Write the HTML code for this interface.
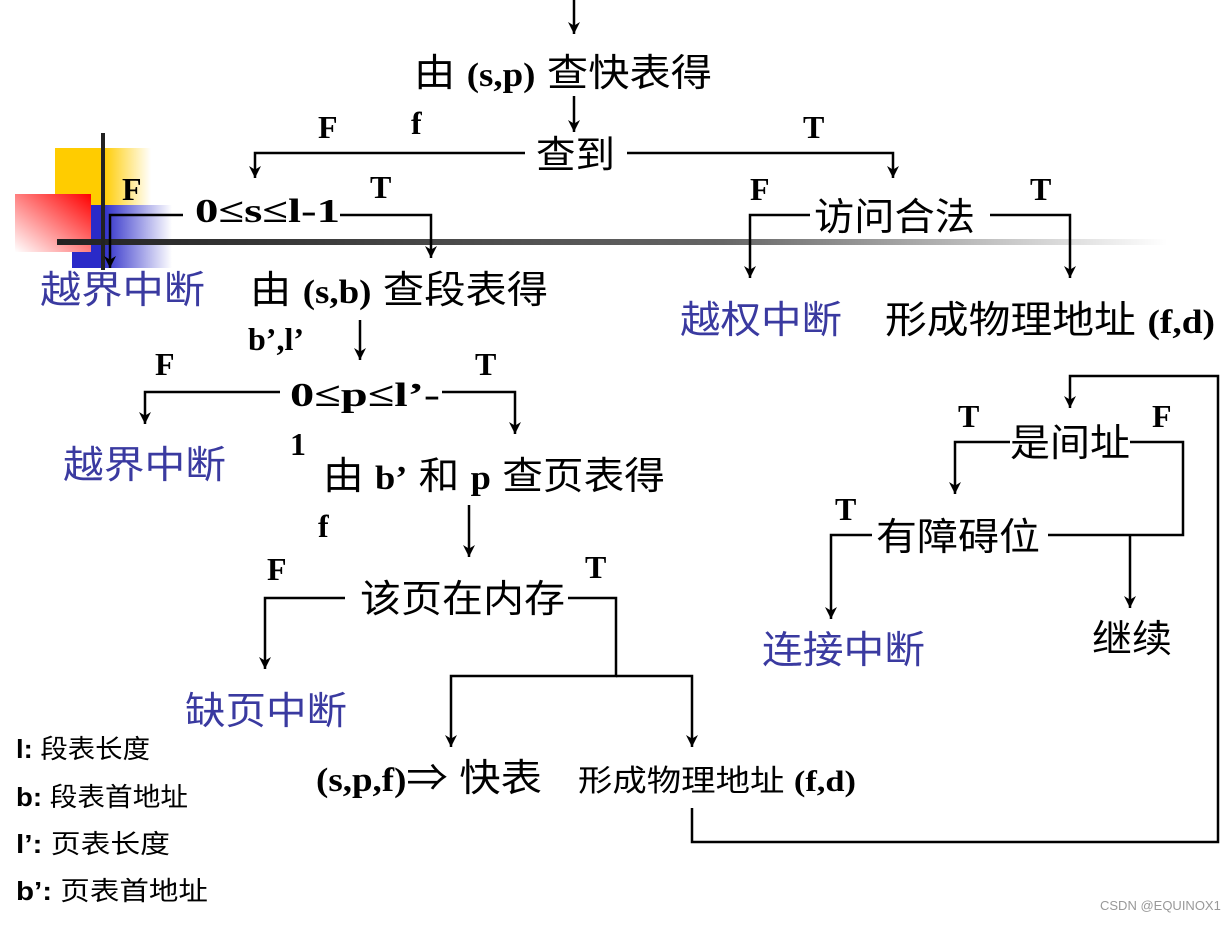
<!DOCTYPE html>
<html><head><meta charset="utf-8"><style>
body{margin:0;background:#fff}
svg text{font-family:"Liberation Sans","Noto Sans CJK SC",sans-serif;fill:#000}
.b{font-weight:bold;font-family:"Liberation Serif",serif}
.c{fill:#3a3aa0 !important}
</style></head><body>
<svg width="1230" height="921" xmlns="http://www.w3.org/2000/svg">
<defs>
<linearGradient id="gy" x1="0" x2="1"><stop offset="0.5" stop-color="#ffcc00"/><stop offset="1" stop-color="#fff"/></linearGradient>
<linearGradient id="gr" x1="1" y1="0" x2="0" y2="1"><stop offset="0" stop-color="#ff0000"/><stop offset="1" stop-color="#fff"/></linearGradient>
<linearGradient id="gb" x1="0" x2="1"><stop offset="0.3" stop-color="#2a2ac8"/><stop offset="1" stop-color="#fff"/></linearGradient>
<linearGradient id="gl" x1="0" x2="1"><stop offset="0" stop-color="#222"/><stop offset="0.6" stop-color="#666"/><stop offset="1" stop-color="#fff"/></linearGradient>
<marker id="a" markerWidth="12" markerHeight="12" refX="10" refY="5" orient="auto" markerUnits="userSpaceOnUse" viewBox="0 0 10 10"><path d="M0,0 L10,5 L0,10 L3,5z" fill="#000"/></marker>
</defs>
<rect x="55" y="148" width="96" height="58" fill="url(#gy)"/>
<rect x="72" y="205" width="100" height="63" fill="url(#gb)"/>
<rect x="15" y="194" width="76" height="58" fill="url(#gr)"/>
<rect x="57" y="239" width="1110" height="6" fill="url(#gl)"/>
<rect x="101" y="133" width="4" height="137" fill="#222"/>
<g stroke="#000" stroke-width="2.5" fill="none">
<path d="M574 0 V34" marker-end="url(#a)"/>
<path d="M574 96 V132" marker-end="url(#a)"/>
<path d="M525 153 H255 V178" marker-end="url(#a)"/>
<path d="M627 153 H893 V178" marker-end="url(#a)"/>
<path d="M183 215 H110 V268" marker-end="url(#a)"/>
<path d="M340 215 H431 V258" marker-end="url(#a)"/>
<path d="M810 215 H750 V278" marker-end="url(#a)"/>
<path d="M990 215 H1070 V278" marker-end="url(#a)"/>
<path d="M360 320 V360" marker-end="url(#a)"/>
<path d="M280 392 H145 V424" marker-end="url(#a)"/>
<path d="M442 392 H515 V434" marker-end="url(#a)"/>
<path d="M469 505 V557" marker-end="url(#a)"/>
<path d="M345 598 H265 V669" marker-end="url(#a)"/>
<path d="M568 598 H616 V676 H451 V747" marker-end="url(#a)"/>
<path d="M616 676 H692 V747" marker-end="url(#a)"/>
<path d="M692 808 V842 H1218 V376 H1070 V408" marker-end="url(#a)"/>
<path d="M1010 442 H955 V494" marker-end="url(#a)"/>
<path d="M1130 442 H1183 V535 H1048"/>
<path d="M1130 535 V608" marker-end="url(#a)"/>
<path d="M872 535 H831 V619" marker-end="url(#a)"/>
</g>
<g font-size="38">
<text x="414" y="86" textLength="298" lengthAdjust="spacingAndGlyphs">由 <tspan class="b" font-size="34">(s,p)</tspan> 查快表得</text>
<text x="536" y="168" textLength="79" lengthAdjust="spacingAndGlyphs">查到</text>
<text x="195" y="222" class="b" font-size="34" textLength="145" lengthAdjust="spacingAndGlyphs">0≤s≤l-1</text>
<text x="814" y="230" textLength="161" lengthAdjust="spacingAndGlyphs">访问合法</text>
<text x="40" y="303" class="c" textLength="165" lengthAdjust="spacingAndGlyphs">越界中断</text>
<text x="250" y="303" textLength="298" lengthAdjust="spacingAndGlyphs">由 <tspan class="b" font-size="34">(s,b)</tspan> 查段表得</text>
<text x="680" y="333" class="c" textLength="162" lengthAdjust="spacingAndGlyphs">越权中断</text>
<text x="885" y="333" textLength="330" lengthAdjust="spacingAndGlyphs">形成物理地址 <tspan class="b" font-size="34">(f,d)</tspan></text>
<text x="290" y="406" class="b" font-size="34" textLength="150" lengthAdjust="spacingAndGlyphs">0≤p≤l’-</text>
<text x="1010" y="456" textLength="120" lengthAdjust="spacingAndGlyphs">是间址</text>
<text x="63" y="478" class="c" textLength="163" lengthAdjust="spacingAndGlyphs">越界中断</text>
<text x="323" y="489" textLength="342" lengthAdjust="spacingAndGlyphs">由 <tspan class="b" font-size="34">b’</tspan> 和 <tspan class="b" font-size="34">p</tspan> 查页表得</text>
<text x="876" y="550" textLength="164" lengthAdjust="spacingAndGlyphs">有障碍位</text>
<text x="360" y="612" textLength="205" lengthAdjust="spacingAndGlyphs">该页在内存</text>
<text x="762" y="663" class="c" textLength="163" lengthAdjust="spacingAndGlyphs">连接中断</text>
<text x="1092" y="652" textLength="80" lengthAdjust="spacingAndGlyphs">继续</text>
<text x="185" y="724" class="c" textLength="162" lengthAdjust="spacingAndGlyphs">缺页中断</text>
<text x="316" y="791" textLength="226" lengthAdjust="spacingAndGlyphs"><tspan class="b" font-size="34">(s,p,f)</tspan>⇒ 快表</text>
</g>
<g font-size="32" class="b">
<text x="318" y="138" class="b">F</text><text x="411" y="134" class="b">f</text><text x="803" y="138" class="b">T</text>
<text x="122" y="200" class="b">F</text><text x="370" y="198" class="b">T</text>
<text x="750" y="200" class="b">F</text><text x="1030" y="200" class="b">T</text>
<text x="248" y="350" class="b">b’,l’</text>
<text x="155" y="375" class="b">F</text><text x="475" y="375" class="b">T</text>
<text x="958" y="427" class="b">T</text><text x="1152" y="427" class="b">F</text>
<text x="290" y="455" class="b">1</text>
<text x="318" y="537" class="b">f</text>
<text x="835" y="520" class="b">T</text>
<text x="267" y="580" class="b">F</text><text x="585" y="578" class="b">T</text>
</g>
<text x="578" y="791" font-size="30" textLength="278" lengthAdjust="spacingAndGlyphs">形成物理地址 <tspan class="b" font-size="30">(f,d)</tspan></text>
<g font-size="26">
<text x="16" y="758" textLength="134" lengthAdjust="spacingAndGlyphs"><tspan font-weight="bold">l:</tspan> 段表长度</text>
<text x="16" y="806" textLength="172" lengthAdjust="spacingAndGlyphs"><tspan font-weight="bold">b:</tspan> 段表首地址</text>
<text x="16" y="853" textLength="154" lengthAdjust="spacingAndGlyphs"><tspan font-weight="bold">l’:</tspan>  页表长度</text>
<text x="16" y="900" textLength="192" lengthAdjust="spacingAndGlyphs"><tspan font-weight="bold">b’:</tspan>  页表首地址</text>
</g>
<text x="1100" y="910" font-size="13" style="fill:#999">CSDN @EQUINOX1</text>
</svg>
</body></html>
